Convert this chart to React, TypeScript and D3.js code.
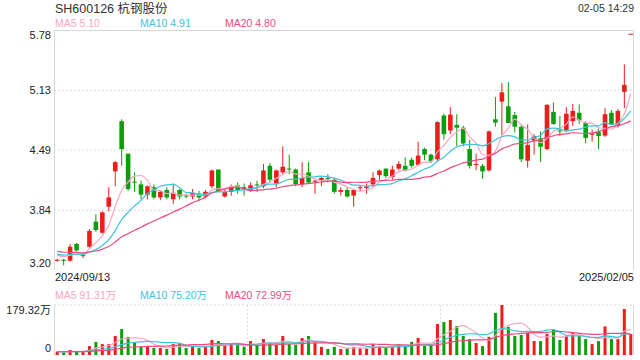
import React from "react";
import * as d3 from "d3";

const title = "SH600126 杭钢股份";
const timeLabel = "02-05 14:29";
const startDate = "2024/09/13";
const endDate = "2025/02/05";
const priceTicks = [5.78, 5.13, 4.49, 3.84, 3.2];
const volMax = 179.32;
const volTickLabels = ["179.32万", "0"];
const maPeriods = [5, 10, 20];
const maColors = ["#f9a6c4", "#3ec3de", "#ef4b7f"];
const priceMaText = ["MA5 5.10", "MA10 4.91", "MA20 4.80"];
const volMaText = ["MA5 91.31万", "MA10 75.20万", "MA20 72.99万"];

const prevCloses = [3.48, 3.46, 3.45, 3.44, 3.42, 3.43, 3.41, 3.42, 3.4, 3.39, 3.4, 3.38, 3.37, 3.38, 3.37, 3.38, 3.37, 3.36, 3.38];
const prevVolumes = [14, 12, 11, 13, 10, 12, 15, 11, 10, 12, 13, 11, 12, 10, 11, 13, 12, 11, 12];

const opens = [
  3.3, 3.31, 3.3, 3.48, 3.35, 3.45, 3.72, 3.6, 3.88, 4.26,
  4.8, 4.45, 4.15, 4.12, 4.01, 4.09, 3.98, 4.06, 3.96, 4.06,
  4.0, 3.99, 4.02, 3.99, 4.1, 4.28, 3.99, 4.04, 4.11, 4.09,
  4.06, 4.12, 4.1, 4.32, 4.13, 4.25, 4.29, 4.28, 4.12, 4.25,
  4.15, 4.16, 4.19, 4.17, 4.04, 4.06, 4.0, 4.08, 4.08, 4.12,
  4.22, 4.29, 4.2, 4.29, 4.32, 4.385, 4.33, 4.5, 4.44, 4.39,
  4.86, 4.7, 4.76, 4.73, 4.5, 4.33, 4.32, 4.27, 4.82, 5.01,
  4.96, 4.865, 4.74, 4.375, 4.59, 4.615, 4.5, 4.9, 4.7, 4.705,
  4.8, 4.89, 4.78, 4.66, 4.685, 4.645, 4.89, 4.75, 5.115, 5.74,
];
const highs = [
  3.32, 3.32, 3.48, 3.49, 3.38, 3.64, 3.8, 3.83, 4.09, 4.37,
  4.82, 4.45, 4.25, 4.16, 4.11, 4.12, 4.06, 4.09, 4.13, 4.07,
  4.02, 4.07, 4.05, 4.06, 4.28, 4.28, 4.06, 4.12, 4.14, 4.13,
  4.14, 4.16, 4.34, 4.35, 4.28, 4.53, 4.44, 4.29, 4.36, 4.36,
  4.17, 4.2, 4.23, 4.18, 4.09, 4.09, 4.06, 4.11, 4.13, 4.25,
  4.28, 4.29, 4.32, 4.37, 4.41, 4.41, 4.58, 4.515, 4.45, 4.8,
  4.88, 4.95, 4.875, 4.75, 4.6, 4.45, 4.34, 4.7, 5.06, 5.21,
  5.22, 4.9, 4.76, 4.765, 4.66, 4.69, 4.985, 5.0, 4.855, 4.95,
  4.985, 4.98, 4.8, 4.71, 4.72, 4.94, 4.92, 4.93, 5.41, 5.74,
];
const lows = [
  3.29, 3.25, 3.29, 3.4, 3.33, 3.44, 3.61, 3.59, 3.83, 4.1,
  4.32, 4.05, 4.04, 3.96, 3.96, 3.96, 3.95, 3.96, 3.91, 3.96,
  3.97, 3.96, 3.95, 3.97, 4.08, 4.04, 3.98, 4.0, 4.02, 4.0,
  4.04, 4.04, 4.08, 4.14, 4.09, 4.23, 4.23, 4.1, 4.09, 4.13,
  4.02, 4.1, 4.14, 4.02, 4.0, 3.98, 3.88, 4.05, 4.02, 4.095,
  4.17, 4.19, 4.17, 4.27, 4.26, 4.3, 4.32, 4.38, 4.35, 4.37,
  4.6, 4.66, 4.53, 4.53, 4.29, 4.275, 4.18, 4.26, 4.74, 4.65,
  4.78, 4.68, 4.36, 4.3, 4.44, 4.36, 4.49, 4.76, 4.64, 4.68,
  4.75, 4.77, 4.56, 4.58, 4.5, 4.63, 4.76, 4.73, 4.94, 5.74,
];
const closes = [
  3.31, 3.3, 3.45, 3.41, 3.36, 3.62, 3.63, 3.82, 3.98, 4.36,
  4.5, 4.07, 4.14, 4.01, 4.1, 3.98, 4.04, 3.98, 4.03, 3.99,
  3.99, 4.03, 3.98, 4.04, 4.27, 4.05, 4.04, 4.1, 4.06, 4.06,
  4.11, 4.11, 4.27, 4.17, 4.27, 4.31, 4.28, 4.12, 4.19, 4.14,
  4.16, 4.19, 4.18, 4.04, 4.06, 3.99, 4.06, 4.09, 4.1, 4.19,
  4.27, 4.21, 4.28, 4.34, 4.27, 4.32, 4.43, 4.44, 4.37, 4.79,
  4.66, 4.87, 4.73, 4.56, 4.32, 4.34, 4.26, 4.69, 4.785, 5.11,
  4.78, 4.74, 4.39, 4.545, 4.64, 4.525, 4.975, 4.77, 4.69, 4.88,
  4.91, 4.81, 4.62, 4.665, 4.64, 4.875, 4.77, 4.91, 5.19, 5.74,
];
const volumes = [
  12, 9.6, 18, 12, 14, 32, 47, 39, 39, 68,
  93, 65, 44, 30, 30, 25, 25, 21.5, 39, 42,
  25, 30, 25, 30, 54, 50, 33, 39, 39, 30,
  50, 36, 57, 44, 36, 68, 39, 36, 61, 68,
  44, 29, 21.5, 29, 21.5, 24, 29, 24, 24, 39,
  32, 29, 32, 39, 32, 47, 61, 33, 38, 111,
  118, 125.5, 104, 68, 57, 43, 32, 65, 151, 179.32,
  101, 68, 72, 79, 50, 50, 75, 90, 54, 68,
  82, 68, 57, 39, 50, 102.5, 57, 57, 165, 75,
];

const RED = "#f01c1c";
const GREEN = "#0a9e0a";
const FONT = "'Liberation Sans', Arial, 'Noto Sans CJK SC', sans-serif";

function movingAverage(prev: number[], vals: number[], n: number): number[] {
  const all = prev.concat(vals);
  const off = prev.length;
  return vals.map((_, i) => d3.mean(all.slice(off + i - n + 1, off + i + 1)) as number);
}

export default function App() {
  const L = 54, R = 634, T = 30, B = 270, VT = 305, VB = 355;
  const idx = closes.map((_, i) => i);
  const x = d3.scaleBand<number>().domain(idx).range([L, R]).padding(0);
  const bw = x.bandwidth();
  const cx = (i: number) => (x(i) as number) + bw / 2;
  const y = d3.scaleLinear().domain([priceTicks[priceTicks.length - 1], priceTicks[0]]).range([B, T]);
  const yv = d3.scaleLinear().domain([0, volMax]).range([VB, VT]);

  const priceMA = maPeriods.map((n) => movingAverage(prevCloses, closes, n));
  const volMA = maPeriods.map((n) => movingAverage(prevVolumes, volumes, n));
  const line = d3.line<number>().x((_, i) => cx(i)).y((d) => y(d)).curve(d3.curveMonotoneX);
  const vline = d3.line<number>().x((_, i) => cx(i)).y((d) => yv(d)).curve(d3.curveMonotoneX);

  const candleW = 4.6;
  const volW = 3;
  const legendX = [55, 140, 225];

  const labelCenter = (py: number, top: number, bot: number) => Math.min(Math.max(py, top + 5), bot - 6.7);

  return (
    <svg width={640} height={360} style={{ position: "absolute", left: 0, top: 0, background: "#fff" }} fontFamily={FONT}>
      <rect x={0} y={0} width={640} height={360} fill="#fff" />
      <text x={55} y={12.5} fontSize={12.5} fill="#333">{title}</text>
      <text x={R} y={11.7} fontSize={10.5} fill="#333" textAnchor="end">{timeLabel}</text>
      {priceMaText.map((t, k) => (
        <text key={k} x={legendX[k]} y={27.3} fontSize={10.5} fill={maColors[k]}>{t}</text>
      ))}

      {/* main grid */}
      {priceTicks.slice(1, -1).map((v) => (
        <line key={v} x1={L} x2={R} y1={y(v)} y2={y(v)} stroke="#dedede" strokeDasharray="2,2" strokeWidth={1.2} />
      ))}
      <line x1={L} x2={R} y1={T + 0.5} y2={T + 0.5} stroke="#d8d8d8" />
      <line x1={L + 0.5} x2={L + 0.5} y1={T} y2={B} stroke="#d8d8d8" />
      <line x1={R - 0.5} x2={R - 0.5} y1={T} y2={B} stroke="#d8d8d8" />
      {priceTicks.map((v) => (
        <text key={v} x={51} y={labelCenter(y(v), T, B) + 3.8} fontSize={11} fill="#222" textAnchor="end">{v.toFixed(2)}</text>
      ))}

      {/* candles */}
      {closes.map((c, i) => {
        const o = opens[i];
        const col = c >= o ? RED : GREEN;
        const top = y(Math.max(o, c));
        const bot = y(Math.min(o, c));
        return (
          <g key={i}>
            <line x1={cx(i)} x2={cx(i)} y1={y(highs[i])} y2={y(lows[i])} stroke={col} strokeWidth={1} />
            <rect x={cx(i) - candleW / 2} y={top} width={candleW} height={Math.max(bot - top, 1)} fill={col} />
          </g>
        );
      })}

      {priceMA.map((m, k) => (
        <path key={k} d={line(m) as string} fill="none" stroke={maColors[k]} strokeWidth={1.2} />
      ))}

      <text x={55} y={280.5} fontSize={11} fill="#222">{startDate}</text>
      <text x={R} y={280.5} fontSize={11} fill="#222" textAnchor="end">{endDate}</text>

      {volMaText.map((t, k) => (
        <text key={k} x={legendX[k]} y={298.7} fontSize={10.5} fill={maColors[k]}>{t}</text>
      ))}

      {/* volume panel */}
      <line x1={L} x2={R} y1={VT} y2={VT} stroke="#dcdcdc" strokeDasharray="2,2" strokeWidth={1.2} />
      <line x1={L} x2={R} y1={VB} y2={VB} stroke="#dcdcdc" strokeDasharray="2,2" strokeWidth={1.2} />
      {[1, 2].map((k) => {
        const gx = L + ((R - L) * k) / 3;
        return <line key={k} x1={gx} x2={gx} y1={VT} y2={VB} stroke="#dcdcdc" strokeDasharray="2,2" />;
      })}
      <line x1={L + 0.5} x2={L + 0.5} y1={VT} y2={VB} stroke="#d8d8d8" />
      <line x1={R - 0.5} x2={R - 0.5} y1={VT} y2={VB} stroke="#d8d8d8" />
      <text x={51} y={labelCenter(yv(volMax), VT, VB) + 3.8} fontSize={11} fill="#222" textAnchor="end">{volTickLabels[0]}</text>
      <text x={51} y={labelCenter(yv(0), VT, VB) + 3.8} fontSize={11} fill="#222" textAnchor="end">{volTickLabels[1]}</text>

      {volumes.map((v, i) => (
        <rect key={i} x={cx(i) - volW / 2} y={yv(v)} width={volW} height={VB - yv(v)} fill={closes[i] >= opens[i] ? RED : GREEN} />
      ))}
      {volMA.map((m, k) => (
        <path key={k} d={vline(m) as string} fill="none" stroke={maColors[k]} strokeWidth={1.2} />
      ))}
    </svg>
  );
}
